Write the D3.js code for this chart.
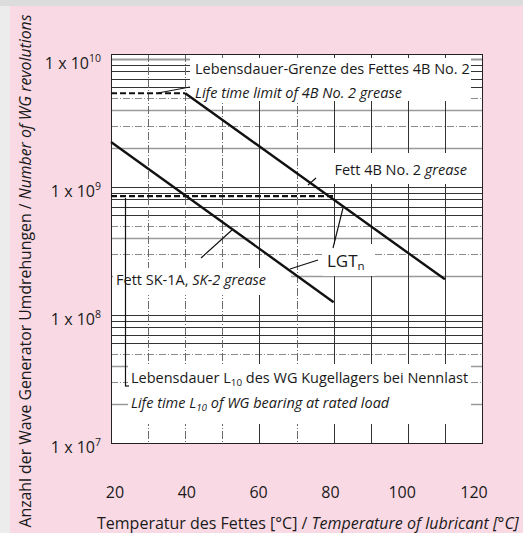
<!DOCTYPE html>
<html>
<head>
<meta charset="utf-8">
<script src="https://cdn.jsdelivr.net/npm/d3@7"></script>
<style>
	body { margin: 0; background: #ececec; }
	svg { display: block; }
	text { font-family: "Open Sans", sans-serif; fill: #1a1a1a; }
</style>
</head>
<body>
<svg id="chart" width="523" height="533"></svg>
<script>
// temperature axis (°C)
var tempTicks = [20, 40, 60, 80, 100, 120];
var tempGrid = [30, 40, 50, 60, 70, 80, 90, 100, 110];
// dash-dot vertical grid lines in the scan
var tempGridDashed = [30, 40, 50, 70];
// revolutions axis, decades and minor steps
var decades = [7, 8, 9, 10];
var minorSteps = [2, 3, 4, 5, 6, 7, 8, 9];

// curves (temperature, revolutions)
var limit4B = [[20, 5.4e9], [40, 5.4e9]];
var grease4B = [[40, 5.4e9], [110, 1.9e8]];
var greaseSK = [[20, 2.25e9], [80, 1.26e8]];
var bearingL10 = [[20, 8.5e8], [80, 8.5e8]];

var svg = d3.select("#chart");
var W = 523, H = 533;

// the pink panel with the grey page edge
svg.append("rect").attr("width", W).attr("height", 6).attr("fill", "#dcdcdc");
svg.append("rect").attr("x", 10).attr("y", 6).attr("width", W - 10).attr("height", H - 6).attr("fill", "#f9d9e4");

var x = d3.scaleLinear().domain([20, 120]).range([111, 482]);
// tick labels sit a bit inside the frame in the original
var xLabel = d3.scaleLinear().domain([20, 120]).range([115, 474]);
var y = d3.scaleLog().domain([1e7, 1e10]).range([443, 59]);
var plotTop = 54;

var plot = svg.append("g");
plot.append("rect")
	.attr("x", x(20)).attr("y", plotTop)
	.attr("width", x(120) - x(20)).attr("height", y(1e7) - plotTop)
	.attr("fill", "#fff");

// horizontal grid, one line per minor step
var hLines = [];
decades.forEach(function(e) {
	hLines.push({ v: Math.pow(10, e), m: 1 });
	if (e < 10) {
		minorSteps.forEach(function(m) {
			hLines.push({ v: m * Math.pow(10, e), m: m });
		});
	}
});
function hStyle(d) {
	if (d.v == 1e10) return { c: "#9a9a9a", w: 2, dash: null };
	if (d.m == 3 || d.m == 5) return { c: "#8a8a8a", w: 1, dash: "7,2,1,2" };
	if (d.m == 2 || d.m == 4) return { c: "#9a9a9a", w: 1.6, dash: null };
	return { c: "#333", w: 1, dash: null };
}
plot.selectAll("line.h").data(hLines).enter().append("line")
	.attr("class", "h")
	.attr("x1", x(20)).attr("x2", x(120))
	.attr("y1", function(d) { return Math.round(y(d.v)) + 0.5; })
	.attr("y2", function(d) { return Math.round(y(d.v)) + 0.5; })
	.attr("stroke", function(d) { return hStyle(d).c; })
	.attr("stroke-width", function(d) { return hStyle(d).w; })
	.attr("stroke-dasharray", function(d) { return hStyle(d).dash; });

// vertical grid
plot.selectAll("line.v").data(tempGrid).enter().append("line")
	.attr("class", "v")
	.attr("x1", function(d) { return Math.round(x(d)) + 0.5; })
	.attr("x2", function(d) { return Math.round(x(d)) + 0.5; })
	.attr("y1", plotTop).attr("y2", y(1e7))
	.attr("stroke", function(d) { return tempGridDashed.indexOf(d) >= 0 ? "#6a6a6a" : "#333"; })
	.attr("stroke-dasharray", function(d) { return tempGridDashed.indexOf(d) >= 0 ? "8,2,1,2" : null; });

// white boxes behind the labels hide the grid, like the original
var boxes = [
	[190, 58, 281, 43],
	[313, 153, 158, 31],
	[113, 268, 178, 27],
	[323, 244, 52, 32],
	[128, 364, 343, 60]
];
plot.selectAll("rect.box").data(boxes).enter().append("rect")
	.attr("class", "box")
	.attr("x", function(d) { return d[0]; }).attr("y", function(d) { return d[1]; })
	.attr("width", function(d) { return d[2]; }).attr("height", function(d) { return d[3]; })
	.attr("fill", "#fff");

plot.append("rect")
	.attr("x", x(20) + 0.5).attr("y", plotTop + 0.5)
	.attr("width", x(120) - x(20)).attr("height", y(1e7) - plotTop)
	.attr("fill", "none").attr("stroke", "#222");

var line = d3.line()
	.x(function(d) { return x(d[0]); })
	.y(function(d) { return y(d[1]); });

plot.append("path").datum(limit4B).attr("d", line)
	.attr("fill", "none").attr("stroke", "#111").attr("stroke-width", 2.2).attr("stroke-dasharray", "6,3");
plot.append("path").datum(bearingL10).attr("d", line)
	.attr("fill", "none").attr("stroke", "#111").attr("stroke-width", 2.2).attr("stroke-dasharray", "6,3");
plot.append("path").datum(grease4B).attr("d", line)
	.attr("fill", "none").attr("stroke", "#111").attr("stroke-width", 2.4);
plot.append("path").datum(greaseSK).attr("d", line)
	.attr("fill", "none").attr("stroke", "#111").attr("stroke-width", 2.4);

// leader lines
var leaders = [
	[158, 93, 190, 87],
	[308, 185, 316, 178],
	[333, 248, 343, 208],
	[318, 260, 290, 269],
	[201, 258, 232, 230],
	[125.5, 198, 125.5, 386],
	[125, 386, 129, 386]
];
plot.selectAll("line.lead").data(leaders).enter().append("line")
	.attr("class", "lead")
	.attr("x1", function(d) { return d[0]; }).attr("y1", function(d) { return d[1]; })
	.attr("x2", function(d) { return d[2]; }).attr("y2", function(d) { return d[3]; })
	.attr("stroke", "#111").attr("stroke-width", 1.2);

// annotation text
var fs = 14.5;
function label(px, py, parts, anchor, size) {
	var t = svg.append("text").attr("x", px).attr("y", py)
		.attr("font-size", size || fs)
		.attr("text-anchor", anchor || "start");
	parts.forEach(function(p) {
		var s = t.append("tspan").text(p.t);
		if (p.i) s.attr("font-style", "italic");
		if (p.sub) s.attr("font-size", (size || fs) * 0.68).attr("dy", 3);
		if (p.back) s.attr("dy", -3);
	});
	return t;
}
label(195, 74, [{ t: "Lebensdauer-Grenze des Fettes 4B No. 2" }]);
label(195, 98, [{ t: "Life time limit of 4B No. 2 grease", i: true }]);
label(467, 175, [{ t: "Fett 4B No. 2 " }, { t: "grease", i: true }], "end");
label(116, 285, [{ t: "Fett SK-1A, " }, { t: "SK-2 grease", i: true }]);
label(327, 267, [{ t: "LGT" }, { t: "n", sub: true }], "start", 17);
label(131, 383, [{ t: "Lebensdauer L" }, { t: "10", sub: true }, { t: " des WG Kugellagers bei Nennlast", back: true }]);
label(131, 408, [{ t: "Life time L", i: true }, { t: "10", i: true, sub: true }, { t: " of WG bearing at rated load", i: true, back: true }]);

// y tick labels: 1 x 10^n
decades.forEach(function(e) {
	var t = svg.append("text")
		.attr("x", 101).attr("y", y(Math.pow(10, e)) + 10)
		.attr("text-anchor", "end").attr("font-size", 16);
	t.append("tspan").text("1 x 10");
	t.append("tspan").text(e).attr("font-size", 10.5).attr("dy", -7);
});

// x tick labels
svg.selectAll("text.xt").data(tempTicks).enter().append("text")
	.attr("class", "xt")
	.attr("x", function(d) { return xLabel(d); }).attr("y", 498)
	.attr("text-anchor", "middle").attr("font-size", 16)
	.text(function(d) { return d; });

// axis titles
var xt = svg.append("text").attr("x", 97).attr("y", 529).attr("font-size", 16);
xt.append("tspan").text("Temperatur des Fettes [°C] / ");
xt.append("tspan").text("Temperature of lubricant [°C]").attr("font-style", "italic");

var yt = svg.append("text")
	.attr("transform", "translate(31,271) rotate(-90)")
	.attr("text-anchor", "middle").attr("font-size", 15.8);
yt.append("tspan").text("Anzahl der Wave Generator Umdrehungen / ");
yt.append("tspan").text("Number of WG revolutions").attr("font-style", "italic");
</script>
</body>
</html>
